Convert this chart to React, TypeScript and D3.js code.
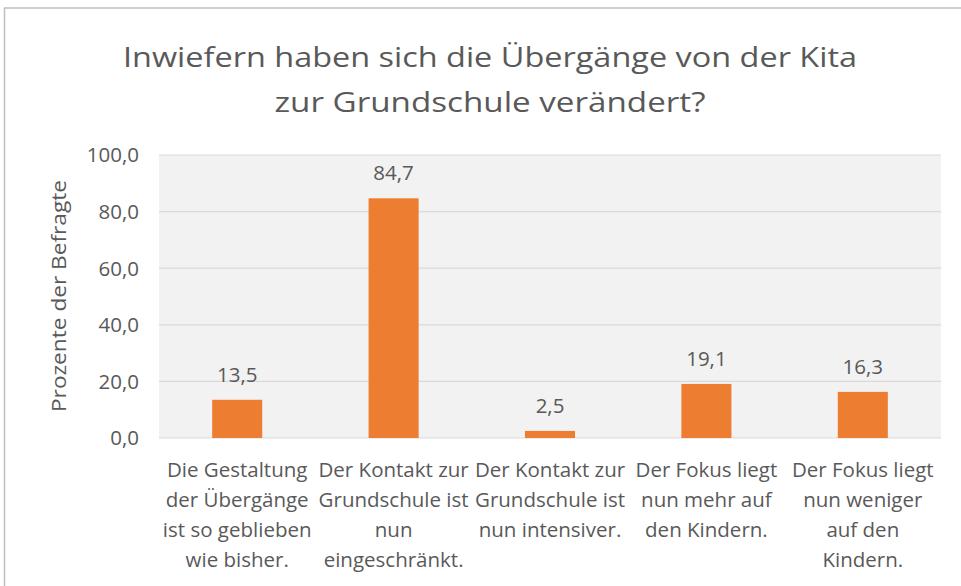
import React from 'react';
import * as d3 from 'd3';

const categories = [
  'Die Gestaltung der Übergänge ist so geblieben wie bisher.',
  'Der Kontakt zur Grundschule ist nun eingeschränkt.',
  'Der Kontakt zur Grundschule ist nun intensiver.',
  'Der Fokus liegt nun mehr auf den Kindern.',
  'Der Fokus liegt nun weniger auf den Kindern.',
];

// wrapped category labels as they appear under the axis
const categoryLines = [
  ['Die Gestaltung', 'der Übergänge', 'ist so geblieben', 'wie bisher.'],
  ['Der Kontakt zur', 'Grundschule ist', 'nun', 'eingeschränkt.'],
  ['Der Kontakt zur', 'Grundschule ist', 'nun intensiver.'],
  ['Der Fokus liegt', 'nun mehr auf', 'den Kindern.'],
  ['Der Fokus liegt', 'nun weniger', 'auf den', 'Kindern.'],
];

const values = [13.5, 84.7, 2.5, 19.1, 16.3];
const yTicks = [0, 20, 40, 60, 80, 100];

const titleLines = ['Inwiefern haben sich die Übergänge von der Kita', 'zur Grundschule verändert?'];
const yAxisTitle = 'Prozente der Befragte';

const W = 961;
const H = 586;
const FONT = '"Open Sans", Calibri, sans-serif';
const TEXT = '#595959';
const FS = 20.5;

const locale = d3.formatLocale({ decimal: ',', thousands: '.', grouping: [3], currency: ['', ' €'] });
const fmt = locale.format('.1f');

export default function App() {
  const plot = { left: 159, right: 941, top: 155, bottom: 438 };

  const x = d3.scaleBand<string>()
    .domain(categories)
    .range([plot.left, plot.right])
    .paddingInner(0.68)
    .paddingOuter(0.34);

  const y = d3.scaleLinear().domain([0, 100]).range([plot.bottom, plot.top]);

  const titleWidths = [734, 431];

  return (
    <div style={{ position: 'fixed', left: 0, top: 0, width: W, height: H, background: '#fff' }}>
      <svg width={W} height={H} style={{ display: 'block', fontFamily: FONT }}>
        <rect x={4.5} y={8} width={975} height={H + 10} fill="#fff" stroke="#bfbfbf" strokeWidth={1.5} />

        {titleLines.map((t, i) => (
          <text
            key={i}
            x={490}
            y={67 + i * 45}
            textAnchor="middle"
            fontSize={27}
            fill={TEXT}
            textLength={titleWidths[i]}
            lengthAdjust="spacingAndGlyphs"
          >
            {t}
          </text>
        ))}

        <rect x={plot.left} y={plot.top} width={plot.right - plot.left} height={plot.bottom - plot.top} fill="#f2f2f2" />

        {yTicks.map(t => (
          <g key={t}>
            <line x1={plot.left} x2={plot.right} y1={y(t)} y2={y(t)} stroke="#d9d9d9" strokeWidth={1.2} />
            <text x={139} y={y(t)} dy="0.36em" textAnchor="end" fontSize={FS} fill={TEXT}>
              {fmt(t)}
            </text>
          </g>
        ))}

        <text
          transform={`translate(66,296) rotate(-90)`}
          textAnchor="middle"
          fontSize={FS}
          fill={TEXT}
          textLength={232}
          lengthAdjust="spacingAndGlyphs"
        >
          {yAxisTitle}
        </text>

        {categories.map((c, i) => {
          const bx = x(c) as number;
          const bw = x.bandwidth();
          return (
            <g key={c}>
              <rect x={bx} y={y(values[i])} width={bw} height={y(0) - y(values[i])} fill="#ed7d31" />
              <text x={bx + bw / 2} y={y(values[i]) - 18} textAnchor="middle" fontSize={FS} fill={TEXT}>
                {fmt(values[i])}
              </text>
              {categoryLines[i].map((ln, j) => (
                <text key={j} x={bx + bw / 2} y={477 + j * 30} textAnchor="middle" fontSize={FS} fill={TEXT}>
                  {ln}
                </text>
              ))}
            </g>
          );
        })}
      </svg>
    </div>
  );
}
